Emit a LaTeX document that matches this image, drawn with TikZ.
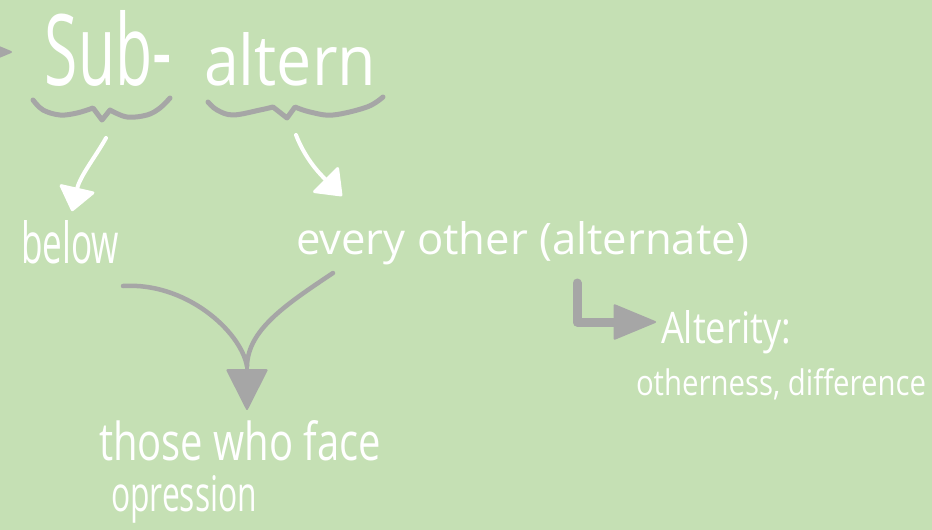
\documentclass[tikz,border=0pt]{standalone}
\usepackage{fontspec}
\setmainfont{Open Sans}
\usepackage{graphicx}
\usetikzlibrary{arrows.meta}
\definecolor{bg}{HTML}{C5E0B4}
\definecolor{gr}{HTML}{A6A6A6}
\newcommand{\fitt}[3]{\resizebox{#1pt}{#2pt}{#3}}
\tikzset{
  hand/.style={text=white, inner sep=0pt, outer sep=0pt, anchor=base west},
  bracestroke/.style={draw=gr, line width=5pt, line cap=round, line join=round},
  whitearrow/.style={draw=white, line width=4pt, line cap=round,
    -{Triangle[width=38pt,length=25pt,line width=3pt,round,fill=white]}},
  greyline/.style={draw=gr, line width=4.5pt, line cap=round},
  greyhead/.style={draw=gr, line width=4pt,
    -{Triangle[width=42pt,length=42pt,line width=2pt,round]}},
  elbowarrow/.style={draw=gr, line width=9pt, line cap=round, line join=round,
    -{Triangle[width=36pt,length=44pt,line width=2pt,round]}},
}
\begin{document}
\begin{tikzpicture}[x=1pt,y=-1pt]
\useasboundingbox (0,0) rectangle (932,530);
\fill[bg] (0,0) rectangle (932,530);
\clip (0,0) rectangle (932,530);

% texts
\node[hand] (sub) at (45,85) {\fitt{127}{75}{Sub-}};
\node[hand] (altern) at (204,85) {\fitt{172}{53}{altern}};
\node[hand] (below) at (21,263) {\fitt{98}{43}{below}};
\node[hand] (every) at (296,254) {\fitt{453}{33}{every other (alternate)}};
\node[hand] (those) at (99,460) {\fitt{282}{40}{those who face}};
\node[hand] (opp) at (111,511) {\fitt{146}{36}{opression}};
\node[hand] (alterity) at (661,343) {\fitt{130}{33}{Alterity:}};
\node[hand] (other) at (636,395) {\fitt{290}{27}{otherness, difference}};

% braces
\draw[bracestroke] plot[smooth,tension=0.6] coordinates {(33,100) (43,110) (60,115) (77,113) (93,108)}
  -- (102,120) -- (110,110)
  -- plot[smooth,tension=0.6] coordinates {(110,110) (127,117) (147,115) (160,108) (170,98)};
\coordinate (subtip) at (102,120);
\draw[bracestroke] plot[smooth,tension=0.6] coordinates {(208,102) (217,110) (233,115) (260,110) (273,107)}
  -- (287,118) -- (295,107)
  -- plot[smooth,tension=0.6] coordinates {(295,107) (310,112) (333,115) (367,107) (383,97)};
\coordinate (alttip) at (287,118);

% white arrows
\coordinate (a1s) at (106,138);
\draw[whitearrow, shorten >=9pt] (a1s) .. controls (96,156) and (80,176) .. (below.north);
\coordinate (a2s) at (296,135);
\coordinate (a2e) at (342,196);
\draw[whitearrow] (a2s) .. controls (305,158) and (318,172) .. (a2e);

% grey V connector
\coordinate (v1) at (123,286);
\coordinate (v2) at (333,273);
\coordinate (j) at (247,366);
\draw[greyline] (v1) .. controls (185,282) and (240,330) .. (j);
\draw[greyline] (v2) .. controls (285,305) and (248,330) .. (j);
\draw[greyhead, shorten >=10pt] (j) -- (those.north -| j);

% elbow arrow
\coordinate (e1) at (577,283);
\coordinate (e2) at (656,322);
\draw[elbowarrow] (e1) |- (e2);

% partial arrow at left edge
\coordinate (l1) at (-60,52);
\coordinate (l2) at (12,52);
\draw[elbowarrow] (l1) -- (l2);
\end{tikzpicture}
\end{document}
